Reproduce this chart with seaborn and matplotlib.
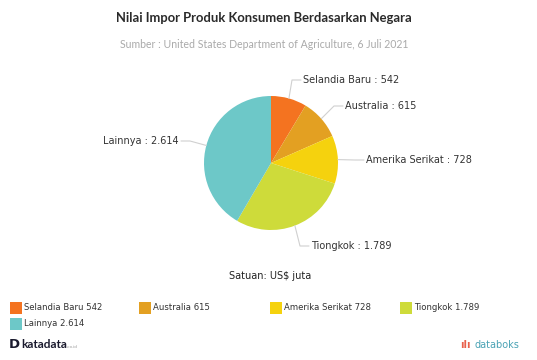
import matplotlib
matplotlib.use("Agg")
import matplotlib.pyplot as plt
import seaborn as sns
import numpy as np

# data
negara = ["Selandia Baru", "Australia", "Amerika Serikat", "Tiongkok", "Lainnya"]
nilai = [542, 615, 728, 1789, 2614]
label_nilai = ["542", "615", "728", "1.789", "2.614"]
warna = ["#F47320", "#E3A022", "#F5D20E", "#CEDB3A", "#6DC8C8"]

sns.set_style("white")
plt.rcParams['font.family'] = ['DejaVu Sans']

W, H = 537, 360
fig = plt.figure(figsize=(W / 100, H / 100), dpi=100)
ax = fig.add_axes([0, 0, 1, 1])

cx, cy, r = 271, H - 163, 67
wedges, _ = ax.pie(nilai, colors=sns.color_palette(warna), startangle=90,
                   counterclock=False, center=(cx, cy), radius=r,
                   wedgeprops=dict(linewidth=0), frame=True)
ax.set_xlim(0, W)
ax.set_ylim(0, H)
ax.set_aspect("equal")
ax.axis("off")

# label: titik siku dan posisi teks (piksel dari kiri atas)
posisi = [((292, 80), (303, 80), "left"),
          ((334, 106), (345, 106), "left"),
          ((355, 160), (366, 160), "left"),
          ((300, 246), (311, 246), "left"),
          ((190, 141), (179, 141), "right")]
for w, nama, lv, (siku, teks, ha) in zip(wedges, negara, label_nilai, posisi):
    ang = np.deg2rad((w.theta1 + w.theta2) / 2)
    ex, ey = cx + r * np.cos(ang), cy + r * np.sin(ang)
    sx, sy = siku[0], H - siku[1]
    tx, ty = teks[0], H - teks[1]
    ax.plot([ex, sx, tx + (-2 if ha == "left" else 2)], [ey, sy, ty],
            color="#D0D0D0", lw=0.8)
    ax.text(tx, ty, f"{nama} : {lv}", ha=ha, va="center", fontsize=7, color="#333333")

fig.text(264 / W, 1 - 18 / H, "Nilai Impor Produk Konsumen Berdasarkan Negara",
         ha="center", va="center", fontsize=9.4, fontweight="bold",
         family=["Lato", "DejaVu Sans"], color="#2A2A2A")
fig.text(264 / W, 1 - 44 / H, "Sumber : United States Department of Agriculture, 6 Juli 2021",
         ha="center", va="center", fontsize=7.6, family=["Lato", "DejaVu Sans"],
         color="#AAAAAA")
fig.text(270 / W, 1 - 276 / H, "Satuan: US$ juta", ha="center", va="center",
         fontsize=7, color="#222222")

# legenda (4 kolom, baris demi baris)
kolom_x = [10, 139, 270, 400]
baris_y = [308, 324]
for i, (n, v, c) in enumerate(zip(negara, label_nilai, warna)):
    x0 = kolom_x[i % 4]
    y0 = H - baris_y[i // 4]
    ax.add_patch(plt.Rectangle((x0, y0 - 6), 12, 12, color=c, lw=0))
    ax.text(x0 + 14, y0, f"{n} {v}", ha="left", va="center", fontsize=6.1,
            color="#333333")

fig.text(9 / W, 1 - 345 / H, "D", ha="left", va="center", fontsize=9.5,
         fontweight="bold", color="#1A1A2E")
fig.text(21 / W, 1 - 345 / H, "katadata", ha="left", va="center", fontsize=8.5,
         fontweight="bold", family=["Lato", "DejaVu Sans"], color="#1A1A2E")
fig.text(67 / W, 1 - 347 / H, ".co.id", ha="left", va="center", fontsize=3,
         color="#999999")
fig.text(519 / W, 1 - 345 / H, "databoks", ha="right", va="center", fontsize=7,
         color="#4AA3B5")
fig.text(471 / W, 1 - 345 / H, "ılı", ha="right", va="center", fontsize=7,
         fontweight="bold", color="#E8604C")

fig.savefig("out.png", dpi=100)
